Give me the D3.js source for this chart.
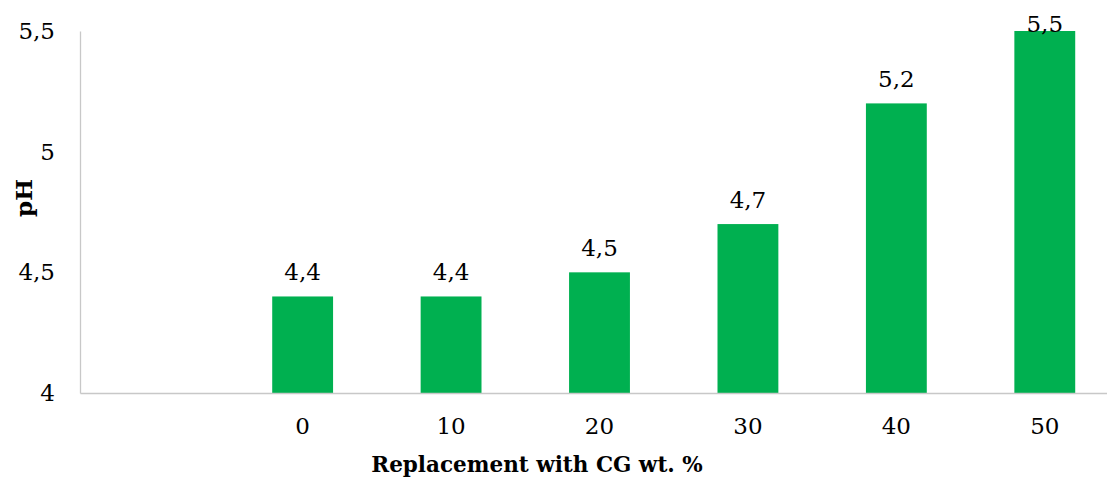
<!DOCTYPE html>
<html>
<head>
<meta charset="utf-8">
<script src="https://cdn.jsdelivr.net/npm/d3@7"></script>
<style>
  html, body { margin: 0; padding: 0; background: #fff; }
  svg { display: block; }
  text { font-family: "DejaVu Serif", "Liberation Serif", serif; }
</style>
</head>
<body>
<svg id="chart" width="1107" height="477"></svg>
<script>
// Categories (the first slot is an empty category, as in the source workbook)
const categories = ["", "0", "10", "20", "30", "40", "50"];
const phValues   = [null, 4.4, 4.4, 4.5, 4.7, 5.2, 5.5];
const yTicks     = [4, 4.5, 5, 5.5];

const fmt = v => String(v).replace(".", ",");

const svg = d3.select("#chart");
const plot = { left: 80, right: 1119, top: 31, bottom: 393 };
const numSize = 23;

const x = d3.scaleBand().domain(categories).range([plot.left, plot.right])
  .paddingInner(0.59).paddingOuter(0.295);
const y = d3.scaleLinear().domain([4, 5.5]).range([plot.bottom, plot.top]);

// Bars
const data = categories.map((c, i) => ({ c, v: phValues[i] })).filter(d => d.v != null);
svg.append("g").selectAll("rect").data(data).join("rect")
  .attr("x", d => x(d.c))
  .attr("y", d => y(d.v))
  .attr("width", x.bandwidth())
  .attr("height", d => y(4) - y(d.v))
  .attr("fill", "#00b050");

// Value labels (kept inside the chart area at the top)
svg.append("g").selectAll("text").data(data).join("text")
  .attr("x", d => x(d.c) + x.bandwidth() / 2)
  .attr("y", d => Math.max(y(d.v) - 16, 32))
  .attr("text-anchor", "middle")
  .attr("font-size", numSize)
  .attr("fill", "#000")
  .text(d => fmt(d.v));

// Y axis
const yAxis = svg.append("g").attr("transform", `translate(${plot.left},0)`)
  .call(d3.axisLeft(y).tickValues(yTicks).tickSize(0).tickPadding(25).tickFormat(fmt));
yAxis.select(".domain").attr("stroke", "#c8c8c8").attr("stroke-width", 1.3);
yAxis.selectAll("text").attr("font-size", numSize).attr("fill", "#000")
  .style("font-family", "DejaVu Serif, serif");

// X axis
const xAxis = svg.append("g").attr("transform", `translate(0,${plot.bottom})`)
  .call(d3.axisBottom(x).tickSize(0).tickPadding(25));
xAxis.select(".domain").attr("stroke", "#c8c8c8").attr("stroke-width", 1.3);
xAxis.selectAll("text").attr("font-size", numSize).attr("fill", "#000")
  .style("font-family", "DejaVu Serif, serif");

// Axis titles
svg.append("text")
  .attr("x", 537).attr("y", 472)
  .attr("text-anchor", "middle")
  .attr("font-size", 21.5).attr("font-weight", "bold")
  .text("Replacement with CG wt. %");

svg.append("text")
  .attr("transform", "translate(32,198) rotate(-90)")
  .attr("text-anchor", "middle")
  .attr("font-size", 23).attr("font-weight", "bold")
  .text("pH");
</script>
</body>
</html>
